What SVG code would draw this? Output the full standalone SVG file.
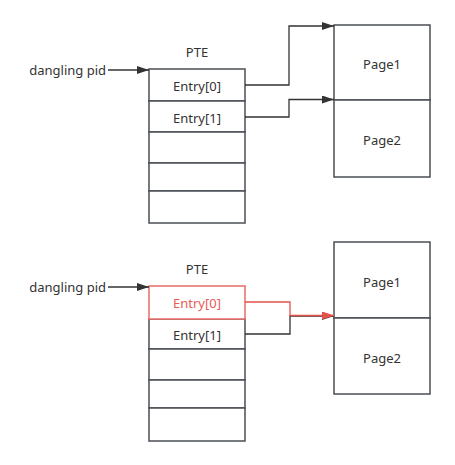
<svg xmlns="http://www.w3.org/2000/svg" width="455" height="465" viewBox="0 0 455 465">
<style>
.box{fill:#fff;stroke:#4a4e54;stroke-width:1.5}
.red{fill:#fff;stroke:#ea6b66;stroke-width:1.5}
.t{font-family:"Noto Sans","Open Sans",sans-serif;font-size:13px;fill:#333;text-anchor:middle;dominant-baseline:central}
.tl{font-family:"Noto Sans","Open Sans",sans-serif;font-size:13px;fill:#333;text-anchor:end;dominant-baseline:central}
.tr{font-family:"Noto Sans","Open Sans",sans-serif;font-size:13px;fill:#ea5b56;text-anchor:middle;dominant-baseline:central}
.c{fill:none;stroke:#333;stroke-width:1.3}
.cr{fill:none;stroke:#e5504b;stroke-width:1.3}
</style>
<defs>
<marker id="ah" viewBox="0 0 12 8" refX="12" refY="4" markerWidth="12" markerHeight="8" markerUnits="userSpaceOnUse" orient="auto"><path d="M0,0 L12,4 L0,8 Z" fill="#333"/></marker>
<marker id="ahr" viewBox="0 0 12 8" refX="12" refY="4" markerWidth="12" markerHeight="8" markerUnits="userSpaceOnUse" orient="auto"><path d="M0,0 L12,4 L0,8 Z" fill="#e5504b"/></marker>
</defs>
<g id="top-pte">
<text class="t" x="197" y="52">PTE</text>
<text class="tl" x="106" y="70">dangling pid</text>
<rect class="box" x="149" y="69" width="96" height="32"/>
<rect class="box" x="149" y="101" width="96" height="31"/>
<rect class="box" x="149" y="132" width="96" height="31"/>
<rect class="box" x="149" y="163" width="96" height="28"/>
<rect class="box" x="149" y="191" width="96" height="32"/>
<text class="t" x="197" y="86">Entry[0]</text>
<text class="t" x="197" y="118">Entry[1]</text>
</g>
<g id="top-pages">
<rect class="box" x="334" y="25" width="96" height="75"/>
<rect class="box" x="334" y="100" width="96" height="77"/>
<text class="t" x="382" y="64">Page1</text>
<text class="t" x="382" y="140">Page2</text>
</g>
<g id="bottom-pte">
<text class="t" x="197" y="269">PTE</text>
<text class="tl" x="106" y="287">dangling pid</text>
<rect class="box" x="149" y="319" width="96" height="30"/>
<rect class="box" x="149" y="349" width="96" height="31"/>
<rect class="box" x="149" y="380" width="96" height="28"/>
<rect class="box" x="149" y="408" width="96" height="33"/>
<rect class="red" x="149" y="286" width="96" height="33"/>
<text class="tr" x="197" y="303">Entry[0]</text>
<text class="t" x="197" y="335">Entry[1]</text>
</g>
<g id="bottom-pages">
<rect class="box" x="334" y="242" width="96" height="76"/>
<rect class="box" x="334" y="318" width="96" height="76"/>
<text class="t" x="382" y="282">Page1</text>
<text class="t" x="382" y="358">Page2</text>
</g>
<g id="connectors">
<path class="c" d="M108,70 H149" marker-end="url(#ah)"/>
<path class="c" d="M245,85 H289 V26 H334" marker-end="url(#ah)"/>
<path class="c" d="M245,117 H289 V99.5 H334" marker-end="url(#ah)"/>
<path class="c" d="M108,287 H149" marker-end="url(#ah)"/>
<path class="c" d="M245,334 H290 V316 H334" marker-end="url(#ah)"/>
<path class="cr" d="M245,302 H290 V315.5 H334" marker-end="url(#ahr)"/>
</g>
</svg>
